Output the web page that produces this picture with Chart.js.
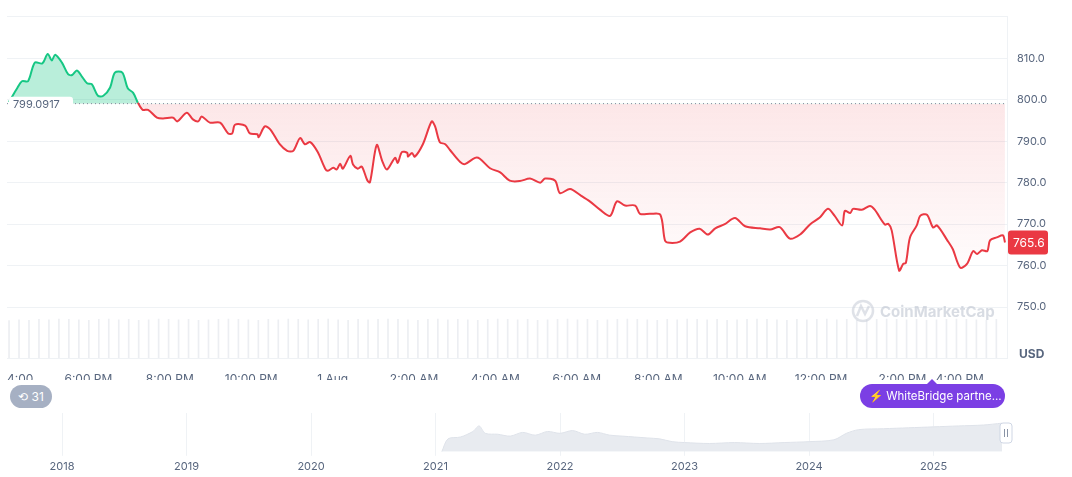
<!DOCTYPE html>
<html><head><meta charset="utf-8">
<script src="https://cdn.jsdelivr.net/npm/chart.js@4.4.1/dist/chart.umd.min.js"></script>
<style>
body{margin:0;width:1072px;height:477px;background:#fff;font-family:Inter,"Noto Sans",sans-serif;overflow:hidden;position:relative}
#c1{position:absolute;left:0;top:0}
#c2{position:absolute;left:0;top:380px}
.pill{position:absolute;font-size:12px;color:#fff;display:flex;align-items:center;border-radius:12px;white-space:nowrap;overflow:hidden}
</style></head><body>
<canvas id="c1" width="1072" height="380"></canvas>
<canvas id="c2" width="1072" height="97"></canvas>
<div class="pill" style="left:10px;top:385px;width:42px;height:23px;background:#a6b0c3;justify-content:center;font-size:12px">&#x27F2;&nbsp;31</div>
<div class="pill" style="left:860px;top:384px;width:145px;height:24px;background:#7b3fe4;padding-left:9px;box-sizing:border-box;font-size:11.5px">&#x26A1;&nbsp;WhiteBridge partne...</div>
<div style="position:absolute;left:926px;top:379px;width:0;height:0;border-left:6px solid transparent;border-right:6px solid transparent;border-bottom:6px solid #7b3fe4"></div>
<script>
const baseline = 799.0917;
const lastPrice = 765.6;
// minutes since 4:00 PM
const times = [3,9,15,22,31,41,52,60,66,71,81,90,96,103,111,118,125,134,142,152,159,170,178,186,193,200,208,221,230,245,251,265,274,282,287,299,314,326,332,336,351,358,369,371,380,388,402,413,422,432,439,447,458,469,473,481,486,491,495,506,510,517,523,531,535,545,553,560,572,576,582,590,591,597,601,613,626,631,638,646,653,668,675,690,697,712,727,741,756,771,786,793,808,815,830,845,859,874,889,899,911,926,933,948,963,970,977,992,1007,1021,1033,1044,1058,1073,1088,1110,1125,1139,1154,1169,1184,1198,1210,1220,1231,1235,1243,1247,1260,1272,1279,1294,1299,1304,1315,1321,1325,1331,1341,1346,1356,1365,1371,1386,1394,1405,1415,1424,1430,1437,1445,1449,1459,1468,1471];
const prices = [799.5,801.2,802.8,804.5,804.5,809,808.8,811.1,809.5,810.9,809,806.2,806,807.1,805.5,804,803.8,801,801,803,806.6,806.6,802.8,801.7,799.3,797.6,797.6,795.7,795.5,795.7,794.8,796.9,795.3,794.8,796,794.5,794.5,791.9,791.9,794,793.8,791.9,791.7,791,793.6,792.9,789.3,787.7,787.7,790.8,789.3,789.8,787.4,783.4,782.9,783.6,783.2,784.6,783.4,786.5,784.4,783.4,783.9,780.6,780.1,789.1,785.3,783.2,786,784.8,787.4,787.2,786.3,787.2,786.3,789.3,794.8,793.6,789.8,789.3,787.9,785,784.5,786,785.8,783.5,782.5,780.5,780.4,781,780,781,780.5,777.5,778.5,777,775.5,773.5,772,775.5,774.5,774.5,772.5,772.5,772.3,766,765.5,765.8,768,768.9,767.5,769,770,771.5,769.5,769,768.7,769.3,766.5,767.5,770,771.6,773.7,772,769.7,773.2,772.7,773.7,773.5,774.4,773.5,769.9,770.1,768.5,758.8,760.4,760.7,766.8,769.7,772,772.3,769.2,769.7,766.1,764,759.5,760.4,763.5,762.8,763.7,763.5,766.1,766.8,767.3,765.6];
const volumes = [0.93,0.95,0.94,0.96,0.95,0.97,0.96,0.95,0.94,0.96,0.97,0.95,0.96,0.94,0.95,0.97,0.96,0.95,0.96,0.94,0.95,0.96,0.97,0.96,0.95,0.94,0.96,0.95,0.97,0.96,0.95,0.96,0.97,0.95,0.94,0.96,0.95,0.96,0.97,0.96,0.95,0.94,0.96,0.97,0.95,0.96,0.95,0.94,0.96,0.97,0.96,0.95,0.96,0.94,0.95,0.96,0.97,0.95,0.96,0.94,0.95,0.96,0.97,0.96,0.95,0.94,0.96,0.95,0.97,0.96,0.95,0.96,0.94,0.95,0.96,0.97,0.96,0.95,0.94,0.96,0.95,0.96,0.97,0.95,0.96,0.94,0.95,0.96,0.97,0.96,0.95,0.96,0.94,0.95,0.96,0.97,0.96,0.95,0.94,0.96];
const tickLabels = {0:"4:00 ...",120:"6:00 PM",240:"8:00 PM",360:"10:00 PM",480:"1 Aug",600:"2:00 AM",720:"4:00 AM",840:"6:00 AM",960:"8:00 AM",1080:"10:00 AM",1200:"12:00 PM",1320:"2:00 PM",1440:"4:00 PM"};
const priceTicks = [750,760,770,780,790,800,810];
const navYears = [2021.05,2021.1,2021.2,2021.3,2021.35,2021.4,2021.5,2021.6,2021.7,2021.8,2021.9,2022.0,2022.1,2022.2,2022.3,2022.4,2022.5,2022.6,2022.7,2022.8,2022.9,2023.0,2023.2,2023.4,2023.6,2023.8,2024.0,2024.2,2024.3,2024.4,2024.6,2024.8,2025.0,2025.2,2025.4,2025.55];
const navValues = [0,14,16,22,28,20,19,17,21,18,22,20,23,19,21,18,17,16,15,14,11,10,9,10,9,10,11,13,20,24,25,26,27,28,29,31];

const GREEN='#16c784', RED='#ea3943';
const pts = times.map((t,i)=>({x:t,y:prices[i]}));
const volPts = volumes.map((v,i)=>({x:3+i*14.7,y:v}));

const overlay = {
  id:'overlay',
  afterDatasetsDraw(ch){
    const {ctx,chartArea:a,scales:{x,y}}=ch;
    const yb=y.getPixelForValue(baseline);
    ctx.save();
    ctx.setLineDash([1,3]);ctx.strokeStyle='#7d8799';ctx.lineWidth=1;
    ctx.beginPath();ctx.moveTo(a.left,yb);ctx.lineTo(a.right,yb);ctx.stroke();
    ctx.setLineDash([]);
    ctx.fillStyle='#fff';
    ctx.beginPath();ctx.roundRect(a.left+2,yb-7,64,15,3);ctx.fill();
    ctx.fillStyle='#58667e';ctx.font='11px Inter';ctx.textBaseline='middle';ctx.textAlign='left';
    ctx.fillText(baseline.toFixed(4),a.left+6,yb+1);
    const yl=y.getPixelForValue(lastPrice);
    ctx.fillStyle=RED;ctx.beginPath();ctx.roundRect(a.right+1,yl-12,40,24,3);ctx.fill();
    ctx.fillStyle='#fff';ctx.font='12px Inter';ctx.fillText(lastPrice.toFixed(1),a.right+6,yl+1);
    ctx.fillStyle='#58667e';ctx.font='bold 12px Inter';ctx.fillText('USD',a.right+12,a.bottom-4);
    ctx.globalAlpha=0.55;ctx.strokeStyle='#c4cad5';ctx.lineWidth=2.5;
    ctx.beginPath();ctx.arc(863,311,10,0,Math.PI*2);ctx.stroke();
    ctx.beginPath();ctx.moveTo(857,316);ctx.lineTo(861,306);ctx.lineTo(865,314);ctx.lineTo(869,306);ctx.stroke();
    ctx.fillStyle='#b8bfcc';ctx.font='bold 15px Inter';ctx.fillText('CoinMarketCap',880,312);
    ctx.restore();
  }
};

new Chart(document.getElementById('c1'),{
  data:{datasets:[
    {type:'line',data:pts,yAxisID:'y',borderWidth:2,pointRadius:0,tension:0.3,order:0,
     segment:{borderColor:c=>((c.p0.parsed.y+c.p1.parsed.y)/2>=baseline?GREEN:RED)},
     borderColor:RED,
     fill:{target:{value:baseline},above:'rgba(22,199,132,0.3)',
       below:(c)=>{const ch=c.chart;const a=ch.chartArea;if(!a)return 'rgba(234,57,67,0.1)';
         const y=ch.scales.y;const g=ch.ctx.createLinearGradient(0,y.getPixelForValue(baseline),0,y.getPixelForValue(758));
         g.addColorStop(0,'rgba(234,57,67,0.12)');g.addColorStop(1,'rgba(234,57,67,0.01)');return g;}}},
    {type:'bar',data:volPts,yAxisID:'v',backgroundColor:'#eceef2',barThickness:1,order:1}
  ]},
  options:{responsive:false,animation:false,
    layout:{padding:{left:7,top:10}},
    plugins:{legend:{display:false},tooltip:{enabled:false}},
    scales:{
      x:{type:'linear',min:0,max:1474,offset:false,
        afterBuildTicks:s=>{s.ticks=Object.keys(tickLabels).map(k=>({value:+k}));},
        afterFit:s=>{s.height=22;},
        ticks:{callback:v=>tickLabels[v],color:'#58667e',font:{size:12,family:'Inter'},maxRotation:0,autoSkip:false,padding:6,align:'inner'},
        grid:{display:false},border:{color:'#eff2f5'}},
      y:{position:'right',min:737.7,max:820.1,
        afterBuildTicks:s=>{s.ticks=priceTicks.map(v=>({value:v})).concat([{value:820.1}]);},
        afterFit:s=>{s.width=65;},
        ticks:{callback:v=>priceTicks.includes(v)?v.toFixed(1):'',color:'#58667e',font:{size:11,family:'Inter'},padding:10},
        grid:{color:'#eff2f5',drawTicks:false},border:{color:'#eff2f5'}},
      v:{display:false,min:0,max:8.5}
    }},
  plugins:[overlay]
});

const handle={id:'handle',afterDraw(ch){const c=ch.ctx,a=ch.chartArea;c.save();c.fillStyle='#fff';c.strokeStyle='#cfd6e4';
  c.beginPath();c.roundRect(a.right-7,a.top+10,12,20,3);c.fill();c.stroke();
  c.strokeStyle='#8a94a6';c.beginPath();c.moveTo(a.right-2.5,a.top+16);c.lineTo(a.right-2.5,a.top+24);c.moveTo(a.right+0.5,a.top+16);c.lineTo(a.right+0.5,a.top+24);c.stroke();c.restore();}};
new Chart(document.getElementById('c2'),{
  type:'line',
  data:{datasets:[{data:navYears.map((t,i)=>({x:t,y:navValues[i]})),borderColor:'#dfe3ea',borderWidth:1,pointRadius:0,tension:0.3,fill:'origin',backgroundColor:'#e8ebf0'}]},
  options:{responsive:false,animation:false,layout:{padding:{left:8,right:65,top:33}},
    plugins:{legend:{display:false},tooltip:{enabled:false}},
    scales:{
      x:{type:'linear',min:2017.566,max:2025.59,
        afterBuildTicks:s=>{s.ticks=[2018,2019,2020,2021,2022,2023,2024,2025].map(v=>({value:v}));},
        ticks:{callback:v=>String(v),color:'#58667e',font:{size:11,family:'Inter'},padding:4,maxRotation:0},
        grid:{color:'#eff2f5',drawTicks:true,tickLength:4},border:{display:false}},
      y:{display:false,min:0,max:42}
    }},
  plugins:[handle]
});
</script></body></html>
